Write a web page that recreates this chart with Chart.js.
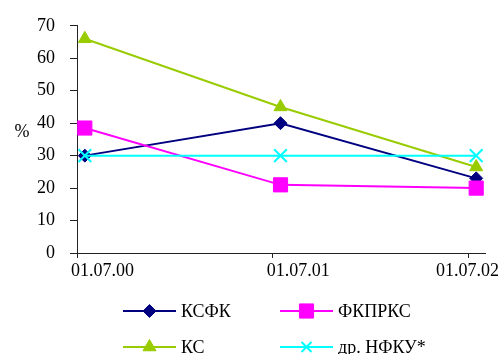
<!DOCTYPE html>
<html lang="ru">
<head>
<meta charset="UTF-8">
<title>Доли, %</title>
<script src="https://cdn.jsdelivr.net/npm/chart.js"></script>
<style>
  html, body { margin: 0; padding: 0; background: #fff; }
  #wrap { width: 499px; height: 354px; }
</style>
</head>
<body>
<div id="wrap"><canvas id="grafik"></canvas></div>
<script>
// данные с графика
const dates = ['01.07.00', '01.07.01', '01.07.02'];
const ksfk = [30, 40, 23];
const fkprks = [38.5, 21, 20];
const ks = [66, 45, 26.5];
const nfku = [30, 30, 30];
const yTicks = [0, 10, 20, 30, 40, 50, 60, 70];

// точки стоят чуть правее делений оси
const shift = 0.04;
const pts = arr => arr.map((v, i) => ({ x: i + shift, y: v }));

Chart.defaults.font.family = '"Liberation Serif", "Times New Roman", serif';
Chart.defaults.font.size = 18;
Chart.defaults.color = '#000';

// подписи оси X, знак % и легенда
const extras = {
  id: 'extras',
  afterDraw(chart) {
    const ctx = chart.ctx;
    const xs = chart.scales.x;
    ctx.save();
    ctx.font = '18px "Liberation Serif"';
    ctx.fillStyle = '#000';
    ctx.textBaseline = 'middle';
    ctx.textAlign = 'left';
    dates.forEach((d, i) => {
      const w = ctx.measureText(d).width;
      const left = Math.min(xs.getPixelForValue(i) - 6, chart.width - w);
      ctx.fillText(d, left, xs.top + 18);
    });

    ctx.textAlign = 'center';
    ctx.fillText('%', 22, 132);

    const cols = [123, 280];
    const rows = [311, 347];
    chart.data.datasets.forEach((ds, i) => {
      const x0 = cols[i % 2];
      const y0 = rows[Math.floor(i / 2)];
      ctx.strokeStyle = ds.borderColor;
      ctx.lineWidth = 2;
      ctx.beginPath();
      ctx.moveTo(x0, y0);
      ctx.lineTo(x0 + 53, y0);
      ctx.stroke();
      ctx.fillStyle = ds.pointBackgroundColor;
      ctx.strokeStyle = ds.pointBorderColor;
      ctx.lineWidth = ds.pointBorderWidth;
      Chart.helpers.drawPoint(ctx, {
        pointStyle: ds.pointStyle,
        radius: ds.pointStyle === 'crossRot' ? 7 : ds.pointRadius,
        rotation: 0,
        borderWidth: ds.pointBorderWidth
      }, x0 + 26.5, y0);
      ctx.fillStyle = '#000';
      ctx.textAlign = 'left';
      ctx.fillText(ds.label, x0 + 58, y0 + 1);
    });
    ctx.restore();
  }
};

const ctx = document.getElementById('grafik').getContext('2d');
new Chart(ctx, {
  type: 'line',
  data: {
    datasets: [
      {
        label: 'КСФК',
        data: pts(ksfk),
        borderColor: '#000080',
        borderWidth: 2,
        pointStyle: 'rectRot',
        pointRadius: 6.5,
        pointBackgroundColor: '#000080',
        pointBorderColor: '#000080',
        pointBorderWidth: 1,
        order: 4
      },
      {
        label: 'ФКПРКС',
        data: pts(fkprks),
        borderColor: '#ff00ff',
        borderWidth: 2,
        pointStyle: 'rect',
        pointRadius: 10,
        pointBackgroundColor: '#ff00ff',
        pointBorderColor: '#ff00ff',
        pointBorderWidth: 1,
        order: 3
      },
      {
        label: 'КС',
        data: pts(ks),
        borderColor: '#99cc00',
        borderWidth: 2,
        pointStyle: 'triangle',
        pointRadius: 7.5,
        pointBackgroundColor: '#99cc00',
        pointBorderColor: '#99cc00',
        pointBorderWidth: 1,
        order: 2
      },
      {
        label: 'др. НФКУ*',
        data: pts(nfku),
        borderColor: '#00ffff',
        borderWidth: 2,
        pointStyle: 'crossRot',
        pointRadius: 9,
        pointBackgroundColor: '#00ffff',
        pointBorderColor: '#00ffff',
        pointBorderWidth: 2,
        order: 1
      }
    ]
  },
  options: {
    responsive: true,
    maintainAspectRatio: false,
    animation: false,
    layout: { padding: { top: 23, right: 14, left: 0, bottom: 0 } },
    plugins: {
      legend: { display: false },
      tooltip: { enabled: false }
    },
    scales: {
      x: {
        type: 'linear',
        min: 0,
        max: 2.085,
        afterBuildTicks: s => { s.ticks = dates.map((d, i) => ({ value: i })); },
        afterFit: s => { s.height = 101; },
        ticks: { display: false },
        grid: { drawOnChartArea: false, drawTicks: true, tickLength: 5, color: '#222' },
        border: { color: '#222', width: 1 }
      },
      y: {
        min: 0,
        max: 70,
        afterBuildTicks: s => { s.ticks = yTicks.map(v => ({ value: v })); },
        afterFit: s => { s.width = 77; },
        ticks: { padding: 15, color: '#000' },
        grid: { drawOnChartArea: false, drawTicks: true, tickLength: 7, color: '#222' },
        border: { color: '#222', width: 1 }
      }
    }
  },
  plugins: [extras]
});
</script>
</body>
</html>
